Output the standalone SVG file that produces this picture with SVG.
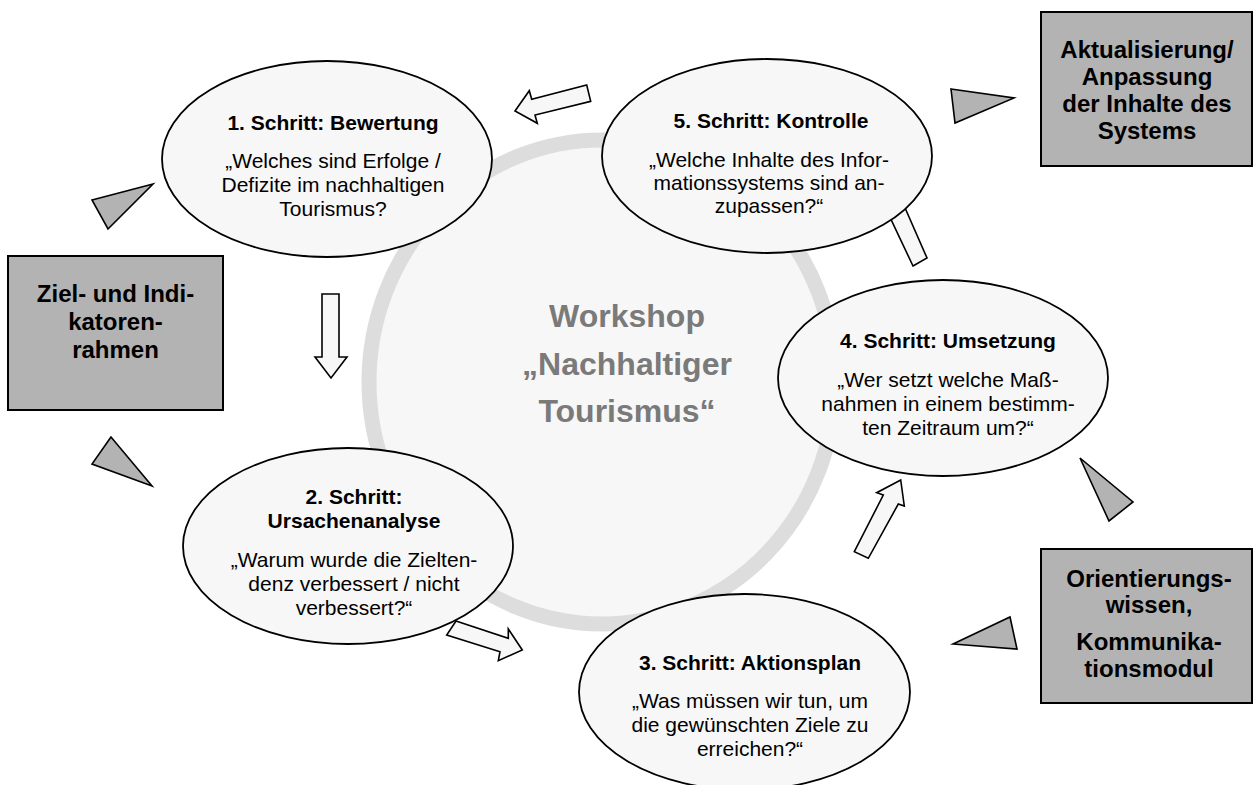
<svg xmlns="http://www.w3.org/2000/svg" width="1254" height="785" viewBox="0 0 1254 785">
<style>
.ell{fill:#f7f7f7;stroke:#000;stroke-width:1.8}
.box{fill:#b3b3b3;stroke:#000;stroke-width:2}
.tri{fill:#b3b3b3;stroke:#000;stroke-width:1.6;stroke-linejoin:miter}
.arr{fill:#f7f7f7;stroke:#000;stroke-width:1.6;stroke-linejoin:miter}
text{font-family:"Liberation Sans",Arial,sans-serif;text-anchor:middle;fill:#000}
.t{font-size:21px;font-weight:bold}
.b{font-size:21px}
.bx{font-size:24px;font-weight:bold}
.c{font-size:32px;font-weight:bold;fill:#7a7a7a}
</style>
<rect x="0" y="0" width="1254" height="785" fill="#fff"/>
<g id="center">
<ellipse cx="602" cy="382" rx="233" ry="242" fill="#f7f7f7" stroke="#dddddd" stroke-width="15"/>
<text class="c" x="627" y="327">Workshop</text>
<text class="c" x="627" y="375">„Nachhaltiger</text>
<text class="c" x="627" y="422">Tourismus“</text>
</g>
<g id="connectors">
<polygon class="arr" points="515,111 529.3,90.7 531.7,99.3 586.7,85 590.7,101.3 535,115 537.3,123.3"/>
<polygon class="arr" points="322,294 339,294 339,357 347,357 331,378 315,357 322,357"/>
<polygon class="arr" points="456,621 508.3,638.3 508.3,629 522.3,650 498.3,660.7 500,651.7 446.7,635"/>
<polygon class="arr" points="900.7,480 904.3,506 898.3,504 868.3,558.3 854.3,551.7 883.3,495 876.7,492.7"/>
<polygon class="arr" points="913,266 927,258 895,185 903,181 865,135 862,196 878,192"/>
<polygon class="tri" points="92,200 153,184 108,229"/>
<polygon class="tri" points="111,437 92,464 152,486"/>
<polygon class="tri" points="951,89 1014,98 955,123"/>
<polygon class="tri" points="1080,458 1133,502 1109,521"/>
<polygon class="tri" points="953,644 1010,617 1017,649"/>
</g>
<g id="step1">
<ellipse class="ell" cx="327" cy="159" rx="165" ry="98"/>
<text class="t" x="333" y="130">1. Schritt: Bewertung</text>
<text class="b" x="333" y="168">„Welches sind Erfolge /</text>
<text class="b" x="333" y="192">Defizite im nachhaltigen</text>
<text class="b" x="333" y="216">Tourismus?</text>
</g>
<g id="step5">
<ellipse class="ell" cx="767" cy="156" rx="165" ry="97"/>
<text class="t" x="771" y="128">5. Schritt: Kontrolle</text>
<text class="b" x="769" y="167">„Welche Inhalte des Infor-</text>
<text class="b" x="769" y="190">mationssystems sind an-</text>
<text class="b" x="769" y="213">zupassen?“</text>
</g>
<g id="step4">
<ellipse class="ell" cx="943" cy="378" rx="165" ry="98"/>
<text class="t" x="948" y="348">4. Schritt: Umsetzung</text>
<text class="b" x="948" y="387">„Wer setzt welche Maß-</text>
<text class="b" x="948" y="411">nahmen in einem bestimm-</text>
<text class="b" x="948" y="435">ten Zeitraum um?“</text>
</g>
<g id="step2">
<ellipse class="ell" cx="348" cy="546" rx="165" ry="98"/>
<text class="t" x="354" y="504">2. Schritt:</text>
<text class="t" x="354" y="528">Ursachenanalyse</text>
<text class="b" x="354" y="567">„Warum wurde die Zielten-</text>
<text class="b" x="354" y="591">denz verbessert / nicht</text>
<text class="b" x="354" y="615">verbessert?“</text>
</g>
<g id="step3">
<ellipse class="ell" cx="744.5" cy="692" rx="165.5" ry="98"/>
<text class="t" x="750" y="670">3. Schritt: Aktionsplan</text>
<text class="b" x="750" y="708">„Was müssen wir tun, um</text>
<text class="b" x="750" y="732">die gewünschten Ziele zu</text>
<text class="b" x="750" y="756">erreichen?“</text>
</g>
<g id="ziel">
<rect class="box" x="8" y="256" width="215" height="154"/>
<text class="bx" x="115.5" y="302">Ziel- und Indi-</text>
<text class="bx" x="115.5" y="330">katoren-</text>
<text class="bx" x="115.5" y="358">rahmen</text>
</g>
<g id="aktualisierung">
<rect class="box" x="1041" y="12" width="211" height="154"/>
<text class="bx" x="1147" y="58">Aktualisierung/</text>
<text class="bx" x="1147" y="85">Anpassung</text>
<text class="bx" x="1147" y="112">der Inhalte des</text>
<text class="bx" x="1147" y="139">Systems</text>
</g>
<g id="orientierung">
<rect class="box" x="1041" y="549" width="211" height="154"/>
<text class="bx" x="1149" y="587">Orientierungs-</text>
<text class="bx" x="1149" y="613">wissen,</text>
<text class="bx" x="1149" y="650">Kommunika-</text>
<text class="bx" x="1149" y="677">tionsmodul</text>
</g>
</svg>
